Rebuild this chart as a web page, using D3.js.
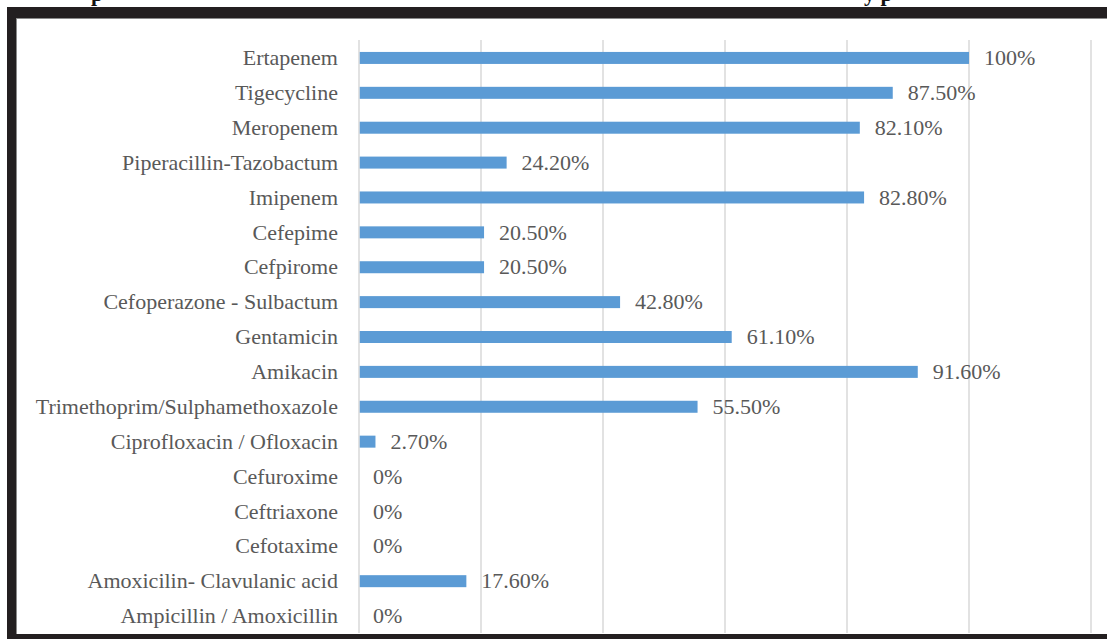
<!DOCTYPE html>
<html><head><meta charset="utf-8">
<script src="https://cdn.jsdelivr.net/npm/d3@7"></script>
<style>
html,body{margin:0;padding:0;background:#fff;}
svg{display:block;}
</style></head>
<body>
<svg id="c" width="1107" height="639"></svg>
<script>
const categories = [
  "Ertapenem","Tigecycline","Meropenem","Piperacillin-Tazobactum","Imipenem",
  "Cefepime","Cefpirome","Cefoperazone - Sulbactum","Gentamicin","Amikacin",
  "Trimethoprim/Sulphamethoxazole","Ciprofloxacin / Ofloxacin","Cefuroxime",
  "Ceftriaxone","Cefotaxime","Amoxicilin- Clavulanic acid","Ampicillin / Amoxicillin"
];
const values = [100,87.5,82.1,24.2,82.8,20.5,20.5,42.8,61.1,91.6,55.5,2.7,0,0,0,17.6,0];
const valueLabels = ["100%","87.50%","82.10%","24.20%","82.80%","20.50%","20.50%","42.80%","61.10%","91.60%","55.50%","2.70%","0%","0%","0%","17.60%","0%"];
const gridTicks = [0,20,40,60,80,100,120];

const svg = d3.select("#c");
const W = 1107, H = 639;

// caption fragments (cut off at the top edge, as in the reference)
svg.append("text").attr("x",91).attr("y",1).attr("font-family","Liberation Serif")
  .attr("font-weight","bold").attr("font-size",22).attr("fill","#111").text("p");
svg.append("text").attr("x",864).attr("y",1).attr("font-family","Liberation Serif")
  .attr("font-weight","bold").attr("font-size",22).attr("fill","#111").text("y p");

// frame
const frameColor = "#231f20";
svg.append("rect").attr("x",7).attr("y",7).attr("width",W-7).attr("height",11).attr("fill",frameColor);
svg.append("rect").attr("x",7).attr("y",7).attr("width",9).attr("height",H-7).attr("fill",frameColor);
svg.append("rect").attr("x",7).attr("y",634).attr("width",W-7).attr("height",5).attr("fill",frameColor);
svg.append("line").attr("x1",16).attr("x2",W).attr("y1",18.5).attr("y2",18.5).attr("stroke","#8a8a8a").attr("stroke-width",1);
svg.append("line").attr("x1",16.5).attr("x2",16.5).attr("y1",18).attr("y2",634).attr("stroke","#8a8a8a").attr("stroke-width",1);

const x = d3.scaleLinear().domain([0,120]).range([359,1091]);
const y = d3.scaleBand().domain(categories).range([40,633]).paddingInner(0).paddingOuter(0);
const barH = 12;

// gridlines
svg.append("g").selectAll("line").data(gridTicks).join("line")
  .attr("x1",d=>x(d)).attr("x2",d=>x(d))
  .attr("y1",40).attr("y2",633)
  .attr("stroke","#d9d9d9").attr("stroke-width",1.5);

// bars
svg.append("g").selectAll("rect").data(values).join("rect")
  .attr("x",x(0)+0.75)
  .attr("y",(d,i)=>y(categories[i])+y.bandwidth()/2-barH/2+0.5)
  .attr("width",d=>Math.max(0,x(d)-x(0)-0.75))
  .attr("height",barH)
  .attr("fill","#5b9bd5");

// category labels
svg.append("g").selectAll("text").data(categories).join("text")
  .attr("x",338)
  .attr("y",d=>y(d)+y.bandwidth()/2)
  .attr("dy","0.35em")
  .attr("text-anchor","end")
  .attr("font-family","Liberation Serif")
  .attr("font-size",22)
  .attr("fill","#595959")
  .text(d=>d);

// value labels
svg.append("g").selectAll("text").data(values).join("text")
  .attr("x",d=>x(d)+(d===0?14:15))
  .attr("y",(d,i)=>y(categories[i])+y.bandwidth()/2)
  .attr("dy","0.35em")
  .attr("font-family","Liberation Serif")
  .attr("font-size",22)
  .attr("fill","#595959")
  .text((d,i)=>valueLabels[i]);
</script>
</body></html>
